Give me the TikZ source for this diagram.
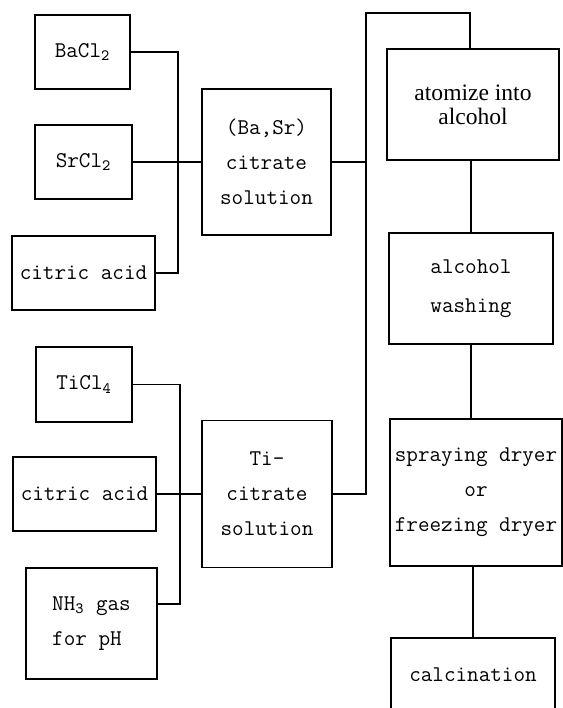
\documentclass[tikz,border=0pt]{standalone}
\usepackage{fontspec}
\setmainfont{Liberation Serif}
\usetikzlibrary{calc}

\begin{document}
\begin{tikzpicture}[
    box/.style={draw, line width=0.6pt, inner sep=2pt, align=center, font=\ttfamily\fontsize{12.8}{20}\selectfont},
    serifbox/.style={box, font=\rmfamily\fontsize{13.4}{13.5}\selectfont},
    wire/.style={line width=0.6pt},
]
\useasboundingbox (0,0) rectangle (11.26,-14.16);

% ── Barium / strontium inputs ──
\node[box, minimum width=1.90cm, minimum height=1.48cm] (BaCl) at (1.65, -1.04) {BaCl\textsubscript{2}};
\node[box, minimum width=1.94cm, minimum height=1.48cm] (SrCl) at (1.67, -3.24) {SrCl\textsubscript{2}};
\node[box, minimum width=2.86cm, minimum height=1.48cm] (citA) at (1.67, -5.46) {citric acid};
\node[box, minimum width=2.58cm, minimum height=2.92cm] (BaSr) at (5.33, -3.24) {(Ba,Sr)\\citrate\\solution};

% ── Titanium inputs ──
\node[box, minimum width=1.92cm, minimum height=1.50cm] (TiCl) at (1.68, -7.69) {TiCl\textsubscript{4}};
\node[box, minimum width=2.86cm, minimum height=1.48cm] (citB) at (1.69, -9.88) {citric acid};
\node[box, minimum width=2.62cm, minimum height=2.22cm, align=left] (NHgas) at (1.83, -12.47) {NH\textsubscript{3} gas\\for pH};
\node[box, minimum width=2.60cm, minimum height=2.94cm] (Ticit) at (5.34, -9.88) {Ti-\\citrate\\solution};

% ── Process chain ──
\node[serifbox, minimum width=3.44cm, minimum height=2.22cm] (atom) at (9.46, -2.09) {atomize into\\alcohol};
\node[box, minimum width=3.28cm, minimum height=2.22cm, font=\ttfamily\fontsize{12.8}{22}\selectfont] (wash) at (9.42, -5.77) {alcohol\\washing};
\node[box, minimum width=3.44cm, minimum height=2.94cm] (dryer) at (9.52, -9.85) {spraying dryer\\or\\freezing dryer};
\node[box, minimum width=3.28cm, minimum height=1.48cm] (calc) at (9.46, -13.50) {calcination};

% ── Junction points ──
\coordinate (busA) at (3.56, -3.24);
\coordinate (busB) at (3.60, -9.88);
\coordinate (top) at (7.32, -0.26);

% ── Connectors ──
\draw[wire] (BaCl.east) -| (busA) |- (citA.east);
\draw[wire] (SrCl.east) -- (BaSr.west);
\draw[wire] (TiCl.east) -| (busB) |- ([yshift=0.39cm]NHgas.east);
\draw[wire] (citB.east) -- (Ticit.west);

\draw[wire] (BaSr.east) -- (BaSr.east -| top);
\draw[wire] (Ticit.east) -| (top) -| ([xshift=-0.06cm]atom.north);
\draw[wire] (wash.north) -- (wash.north |- atom.south);
\draw[wire] (wash.south) -- (wash.south |- dryer.north);
\draw[wire] (calc.north) -- (calc.north |- dryer.south);

\end{tikzpicture}
\end{document}
